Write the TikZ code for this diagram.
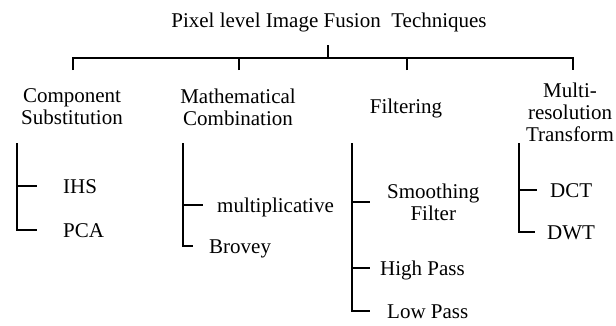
\documentclass[tikz,border=0pt]{standalone}
\usepackage{fontspec}
\setmainfont{Liberation Serif}
\usepackage{tikz}
\usetikzlibrary{positioning}

\begin{document}
\begin{tikzpicture}[x=1pt, y=-1pt,
        branch/.style={black, line width=2.5pt},
        label/.style={font=\fontsize{21}{22}\selectfont, align=center},
        leaf/.style={font=\fontsize{21}{22}\selectfont, anchor=west,
            inner sep=0pt, text height=14pt, text depth=0pt}]
        \useasboundingbox[fill=white] (0,0) rectangle (616,325);
        % title and the categories
        \node[label, anchor=base] (title) at (329,27)
            {Pixel level Image Fusion\ \ Techniques};
        \node[label] (comp) at (72,107) {Component\\Substitution};
        \node[label] (math) at (238,107) {Mathematical\\Combination};
        \node[label] (filt) at (406,108) {Filtering};
        \node[label, inner xsep=0pt] (multi) at (570,112) {Multi-\\resolution\\Transform};
        \coordinate (bar) at (328,58);
        \coordinate (cdrop) at (73,70);
        \coordinate (mdrop) at (239,70);
        \coordinate (fdrop) at (407,70);
        \coordinate (tdrop) at (573,70);
        \draw[branch] (bar |- title.south) ++(0,10) -- (bar);
        \draw[branch] (cdrop) |- (bar) -| (tdrop);
        \draw[branch] (mdrop) -- (mdrop |- bar);
        \draw[branch] (fdrop) -- (fdrop |- bar);
        % leaves
        \node[leaf] (ihs) at (63,186) {IHS};
        \node[leaf] (pca) at (63,230) {PCA};
        \node[leaf] (mult) at (217,205) {multiplicative};
        \node[leaf] (brovey) at (209,246) {Brovey};
        \node[label, anchor=west, inner sep=0pt] (smooth) at (387,202)
            {Smoothing\\Filter};
        \node[leaf] (high) at (380,268) {High Pass};
        \node[leaf] (low) at (387,311) {Low Pass};
        \node[leaf] (dct) at (550,190) {DCT};
        \node[leaf] (dwt) at (547,232) {DWT};
        \coordinate (ctop) at (17,143);
        \coordinate (mtop) at (183,143);
        \coordinate (ftop) at (352,143);
        \coordinate (ttop) at (519,143);
        \draw[branch, shorten >=26pt] (ctop) |- (ihs.west);
        \draw[branch, shorten >=26pt] (ctop) |- (pca.west);
        \draw[branch, shorten >=14pt] (mtop) |- (mult.west);
        \draw[branch, shorten >=16pt] (mtop) |- (brovey.west);
        \draw[branch, shorten >=17pt] (ftop) |- (smooth.west);
        \draw[branch, shorten >=10pt] (ftop) |- (high.west);
        \draw[branch, shorten >=17pt] (ftop) |- (low.west);
        \draw[branch, shorten >=13pt] (ttop) |- (dct.west);
        \draw[branch, shorten >=12pt] (ttop) |- (dwt.west);
\end{tikzpicture}
\end{document}
